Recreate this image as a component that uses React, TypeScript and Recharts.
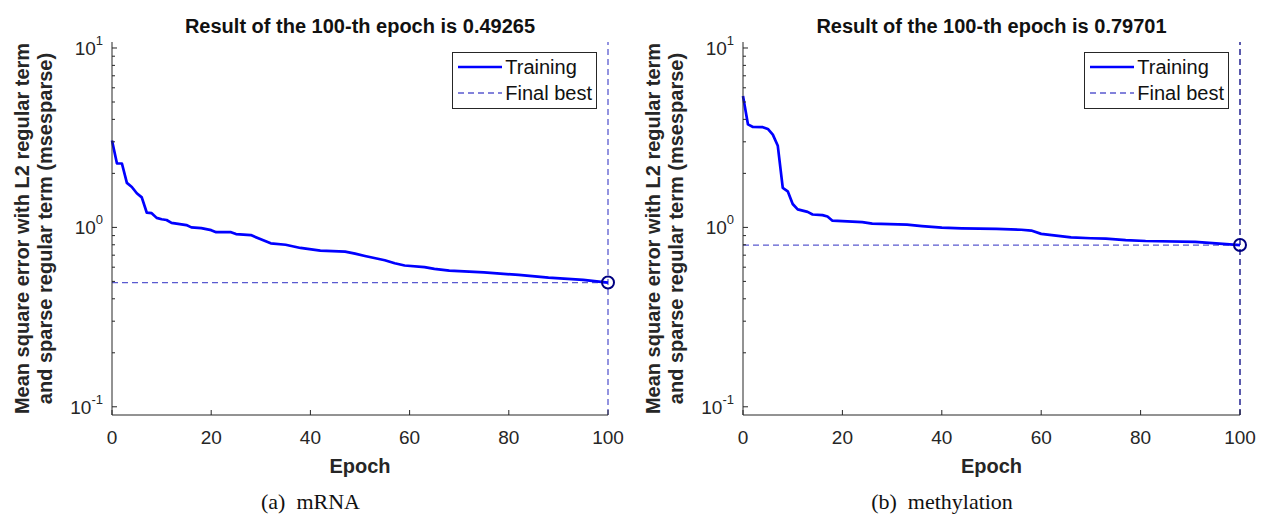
import React from 'react'
import { LineChart, Line, XAxis, YAxis, ReferenceLine, ReferenceDot } from 'recharts'

// epochs and errors
const mrnaEpoch = [0, 1, 2, 3, 4, 5, 6, 7, 8, 9, 10, 11, 12, 13, 15, 16, 18, 20, 21, 24, 25, 28, 30, 32, 35, 38, 42, 47, 49, 51, 55, 57, 59, 63, 65, 68, 75, 82, 88, 95, 100]
const mrnaError = [3.05, 2.27, 2.27, 1.77, 1.68, 1.55, 1.47, 1.21, 1.2, 1.13, 1.11, 1.1, 1.06, 1.05, 1.03, 1.0, 0.99, 0.965, 0.94, 0.94, 0.918, 0.906, 0.858, 0.815, 0.8, 0.768, 0.742, 0.733, 0.714, 0.693, 0.656, 0.631, 0.613, 0.6, 0.587, 0.574, 0.562, 0.543, 0.525, 0.51, 0.4927]
const methEpoch = [0, 1, 2, 4, 5, 6, 7, 8, 9, 10, 11, 13, 14, 16, 17, 18, 21, 24, 26, 33, 36, 40, 44, 51, 56, 58, 60, 63, 66, 70, 73, 77, 81, 91, 100]
const methError = [5.4, 3.75, 3.63, 3.62, 3.54, 3.29, 2.85, 1.66, 1.59, 1.35, 1.26, 1.22, 1.18, 1.17, 1.15, 1.09, 1.08, 1.07, 1.05, 1.035, 1.017, 0.996, 0.987, 0.98, 0.97, 0.96, 0.92, 0.9, 0.88, 0.87, 0.865, 0.85, 0.84, 0.83, 0.797]

const mrnaBest = 0.49265
const methBest = 0.79701
const lastEpoch = 100

const epochTicks = [0, 20, 40, 60, 80, 100]
const errorTicks = [0.1, 0.2, 0.3, 0.4, 0.5, 0.6, 0.7, 0.8, 0.9, 1, 2, 3, 4, 5, 6, 7, 8, 9, 10]

const FONT = '"Liberation Sans", Arial, Helvetica, sans-serif'
const AXIS = '#262626'
const BEST = '#5a5ad0'

const isMajor = (v: number) => Math.abs(Math.log10(v) - Math.round(Math.log10(v))) < 1e-6

const YTick = (props: any) => {
  const { x, y, payload } = props
  const v = payload.value
  const major = isMajor(v)
  return (
    <g>
      <line x1={x} x2={x + (major ? 5 : 3)} y1={y} y2={y} stroke={AXIS} />
      {major && (
        <text x={x - 9} y={y + 7} textAnchor="end" fontSize={19} fill={AXIS} fontFamily={FONT}>
          <tspan>10</tspan>
          <tspan dy={-10} fontSize={13}>{Math.round(Math.log10(v))}</tspan>
        </text>
      )}
    </g>
  )
}

const XTick = (props: any) => {
  const { x, y, payload } = props
  return (
    <g>
      <line x1={x} x2={x} y1={y} y2={y - 5} stroke={AXIS} />
      <text x={x} y={y + 29} textAnchor="middle" fontSize={19} fill={AXIS} fontFamily={FONT}>
        {payload.value}
      </text>
    </g>
  )
}

const yLabel = (props: any) => {
  const vb = props.viewBox || { x: 52, y: 42, width: 60, height: 373 }
  const cy = vb.y + vb.height / 2
  const x1 = vb.x - 30
  const x2 = vb.x - 7
  return (
    <g fontFamily={FONT} fontWeight="bold" fontSize={20} fill={AXIS}>
      <text x={x1} y={cy} textAnchor="middle" dominantBaseline="central" transform={`rotate(-90 ${x1} ${cy})`}>
        Mean square error with L2 regular term
      </text>
      <text x={x2} y={cy} textAnchor="middle" dominantBaseline="central" transform={`rotate(-90 ${x2} ${cy})`}>
        and sparse regular term (msesparse)
      </text>
    </g>
  )
}

const xLabel = (props: any) => {
  const vb = props.viewBox || { x: 112, y: 415, width: 495, height: 30 }
  return (
    <text x={vb.x + vb.width / 2} y={vb.y + 58} textAnchor="middle" fontFamily={FONT} fontWeight="bold" fontSize={20} fill={AXIS}>
      Epoch
    </text>
  )
}

type PanelProps = {
  left: number
  width: number
  epochs: number[]
  errors: number[]
  best: number
  vColor: string
  caption: string
}

const Panel = ({ left, width, epochs, errors, best, vColor, caption }: PanelProps) => {
  const data = epochs.map((e, i) => ({ epoch: e, error: errors[i] }))
  const plotLeft = 112
  const plotRight = width - 23
  const plotW = plotRight - plotLeft
  return (
    <div style={{ position: 'absolute', left, top: 0, width, height: 522 }}>
      <div style={{ position: 'absolute', left: plotLeft, width: plotW, top: 14, lineHeight: '24px', textAlign: 'center', fontFamily: FONT, fontWeight: 'bold', fontSize: 20, color: '#111' }}>
        Result of the {lastEpoch}-th epoch is {best.toFixed(5)}
      </div>
      <LineChart width={width} height={480} data={data} margin={{ top: 42, right: 23, bottom: 35, left: 52 }}>
        <XAxis dataKey="epoch" type="number" domain={[0, 100]} ticks={epochTicks} interval={0} tickSize={0} tickMargin={0} tickLine={false} stroke={AXIS} tick={XTick} height={30} label={xLabel} />
        <YAxis type="number" scale="log" domain={[0.09, 10.8]} allowDataOverflow ticks={errorTicks} interval={0} tickSize={0} tickMargin={0} tickLine={false} stroke={AXIS} tick={YTick} width={60} label={yLabel} />
        <ReferenceLine y={best} stroke={BEST} strokeDasharray="6 4" strokeWidth={1.3} />
        <ReferenceLine x={lastEpoch} stroke={vColor} strokeDasharray="6 4" strokeWidth={1.3} />
        <Line dataKey="error" type="linear" stroke="#0000ff" strokeWidth={2.7} dot={false} isAnimationActive={false} strokeLinejoin="round" />
        <ReferenceDot x={lastEpoch} y={best} r={6} fill="none" stroke="#000080" strokeWidth={2} />
      </LineChart>
      <div style={{ position: 'absolute', right: width - plotRight + 11, top: 52, border: `1px solid ${AXIS}`, background: '#fff', padding: '1px 4px 2px 4px', fontFamily: FONT, fontSize: 20, color: '#111' }}>
        <div style={{ display: 'flex', alignItems: 'center', height: 26 }}>
          <svg width={48} height={10}><line x1={1} x2={45} y1={5} y2={5} stroke="#0000ff" strokeWidth={2.7} /></svg>
          <span>Training</span>
        </div>
        <div style={{ display: 'flex', alignItems: 'center', height: 26 }}>
          <svg width={48} height={10}><line x1={1} x2={45} y1={5} y2={5} stroke={BEST} strokeWidth={1.3} strokeDasharray="6 4" /></svg>
          <span>Final best</span>
        </div>
      </div>
      <div style={{ position: 'absolute', left: 0, width: width - 10, top: 489, textAlign: 'center', fontFamily: '"Liberation Serif", "Times New Roman", serif', fontSize: 22, whiteSpace: 'pre', color: '#111' }}>
        {caption}
      </div>
    </div>
  )
}

export default function App() {
  return (
    <div style={{ position: 'absolute', left: 0, top: 0, width: 1263, height: 522, background: '#fff' }}>
      <Panel left={0} width={631} epochs={mrnaEpoch} errors={mrnaError} best={mrnaBest} vColor={BEST} caption="(a)  mRNA" />
      <Panel left={631} width={632} epochs={methEpoch} errors={methError} best={methBest} vColor="#000080" caption="(b)  methylation" />
    </div>
  )
}
